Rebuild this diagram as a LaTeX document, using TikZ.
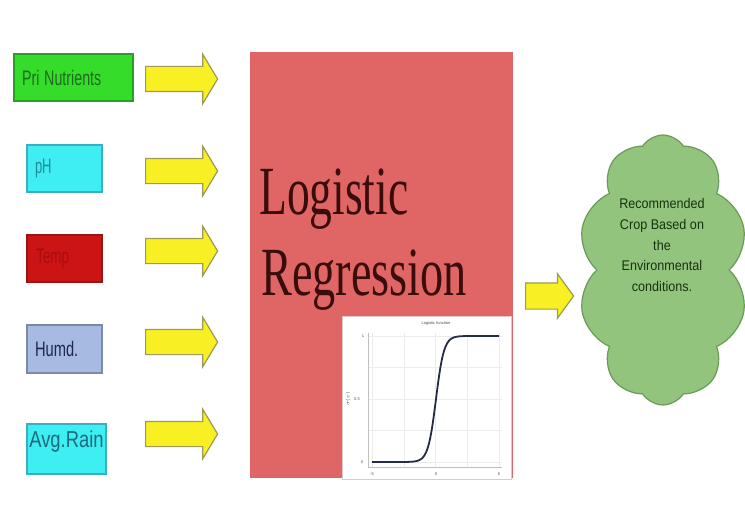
\documentclass[tikz,border=0pt]{standalone}
\usepackage{fontspec}
\setmainfont{Liberation Serif}
\setsansfont{Liberation Sans}
\usetikzlibrary{shapes.arrows,shapes.symbols}

\definecolor{nutgreen}{HTML}{36DC2A}
\definecolor{nutedge}{HTML}{2A9E2A}
\definecolor{nuttext}{HTML}{1E6A1E}
\definecolor{phcyan}{HTML}{3EEEF2}
\definecolor{phedge}{HTML}{3AAFC0}
\definecolor{phtext}{HTML}{1C8C9C}
\definecolor{tempred}{HTML}{CC1414}
\definecolor{tempedge}{HTML}{9A1414}
\definecolor{temptext}{HTML}{A80C0C}
\definecolor{humdblue}{HTML}{A6BAE2}
\definecolor{humdedge}{HTML}{7C8AA8}
\definecolor{humdtext}{HTML}{1E2850}
\definecolor{raintext}{HTML}{1A6C7C}
\definecolor{arrowyellow}{HTML}{F8F022}
\definecolor{arrowedge}{HTML}{9C9A56}
\definecolor{boxred}{HTML}{E06666}
\definecolor{lrtext}{HTML}{3A0C0C}
\definecolor{insetedge}{HTML}{DCCACA}
\definecolor{gridgray}{HTML}{ECECEC}
\definecolor{curveblue}{HTML}{262B48}
\definecolor{cloudgreen}{HTML}{93C47D}
\definecolor{cloudedge}{HTML}{6A9A55}
\definecolor{cloudtext}{HTML}{17320F}

\newcommand{\narrow}[2]{\scalebox{#1}[1]{#2}}

\begin{document}
\begin{tikzpicture}[x=1pt,y=-1pt,
  inbox/.style={draw, line width=1.2pt, inner xsep=8pt, inner ysep=0pt, font=\sffamily\fontsize{21}{24}\selectfont},
  leftlabel/.style={text width=#1, align=left},
  yarrow/.style={single arrow, draw=arrowedge, fill=arrowyellow, line width=1.2pt, inner xsep=0pt, inner ysep=12pt,
    single arrow head extend=12pt, single arrow tip angle=118, minimum height=72pt, anchor=tail},
  gridline/.style={draw=gridgray, line width=0.4pt},
  ticklabel/.style={font=\sffamily\fontsize{4}{4}\selectfont, text=black!70, inner sep=0pt}]
\useasboundingbox (0,0) rectangle (745,527);
\fill[white] (0,0) rectangle (745,527);

% inputs
\node[inbox, leftlabel=103pt, fill=nutgreen, draw=nutedge, text=nuttext, minimum height=47pt] (nut) at (73.5,77.5) {\narrow{0.68}{Pri Nutrients}};
\node[inbox, leftlabel=59pt, fill=phcyan, draw=phedge, text=phtext, minimum height=47pt] (ph) at (64.5,168.5) {\narrow{0.62}{pH}};
\node[inbox, leftlabel=59pt, fill=tempred, draw=tempedge, text=temptext, minimum height=47pt] (temp) at (64.5,258.5) {\narrow{0.64}{\hspace{2pt}Temp}};
\node[inbox, leftlabel=59pt, fill=humdblue, draw=humdedge, text=humdtext, minimum height=48pt] (humd) at (64.5,349) {\narrow{0.7}{Humd.}};
\node[inbox, fill=phcyan, draw=phedge, text=raintext, inner xsep=0pt, minimum width=79pt, text height=23pt, text depth=27pt,
  font=\sffamily\fontsize{23}{26}\selectfont] (rain) at (66.5,449) {\narrow{0.8}{Avg.Rain}};

% block arrows
\foreach \ay [count=\i] in {79,171,251,342,434}
  \node[yarrow] (arr\i) at (145,\ay) {};

% model
\fill[boxred] (250,52) rectangle (513,478);
\node[anchor=base west, inner sep=0pt, text=lrtext, font=\fontsize{69}{80}\selectfont] (lr1) at (259,214) {\narrow{0.66}{Logistic}};
\node[anchor=base west, inner sep=0pt, text=lrtext, font=\fontsize{69}{80}\selectfont] (lr2) at (261,295) {\narrow{0.67}{Regression}};

% small sigmoid plot
\filldraw[fill=white, draw=insetedge, line width=1pt] (342,316) rectangle (511,479);
\foreach \gx in {372,403.75,435.5,467.25,499} \draw[gridline] (\gx,333) -- (\gx,467);
\foreach \gy in {336,367.5,399,430.5,462} \draw[gridline] (368,\gy) -- (502,\gy);
\draw[black!25, line width=0.5pt] (368,333) -- (368,467) -- (502,467);
\draw[curveblue, line width=1.8pt, line join=round] (372,462) -- (404,462)
  -- plot[domain=404:468, samples=70] (\x,{462-126/(1+exp(-(\x-436)/4))}) -- (499,336);
\node[ticklabel] (ttl) at (436,323) {Logistic function};
\node[ticklabel] (t0) at (362,462) {0};
\node[ticklabel] (t5) at (357,399) {0.5};
\node[ticklabel] (t1) at (363,336) {1};
\node[ticklabel, rotate=90] (ylab) at (348,399) {$\sigma(x)$};
\node[ticklabel] (xa) at (372,474) {-5};
\node[ticklabel] (xb) at (436,474) {0};
\node[ticklabel] (xc) at (499,474) {5};

% output
\node[yarrow, inner ysep=12.5pt, single arrow head extend=9pt, single arrow tip angle=108, minimum height=48pt] (out) at (525,296) {};
\node[cloud, cloud puffs=10, cloud puff arc=115, cloud ignores aspect, draw=cloudedge, fill=cloudgreen, line width=1.2pt,
  minimum width=170pt, minimum height=270pt, inner sep=0pt] (crop) at (663,270) {};
\node[align=center, text=cloudtext, font=\sffamily\fontsize{14}{20.8}\selectfont] (croptxt) at (662,245)
  {\narrow{0.9}{Recommended}\\ \narrow{0.9}{Crop Based on}\\ \narrow{0.9}{the}\\ \narrow{0.9}{Environmental}\\ \narrow{0.9}{conditions.}};
\end{tikzpicture}
\end{document}
